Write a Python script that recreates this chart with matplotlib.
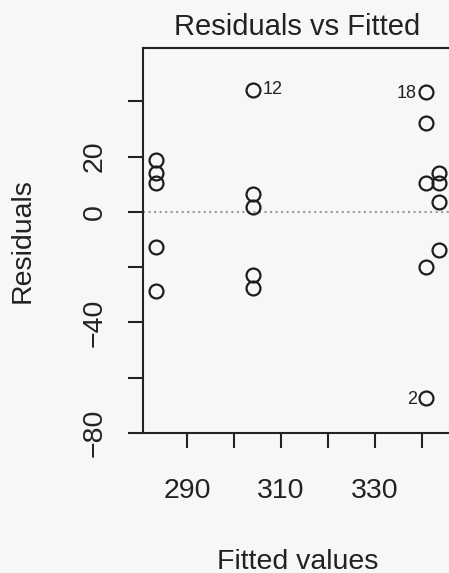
import numpy as np
import matplotlib
matplotlib.use("Agg")
import matplotlib.pyplot as plt

plt.rcParams['font.family'] = ['Liberation Sans', 'DejaVu Sans']

# fitted values and residuals
fitted = [283.4, 283.4, 283.4, 283.4, 283.4,
          304.0, 304.0, 304.0, 304.0, 304.0,
          340.85, 340.85, 340.85, 340.85, 340.85,
          343.6, 343.6, 343.6, 343.6]
residuals = [18.6, 14.0, 10.6, -12.8, -28.8,
             44.1, 6.5, 1.9, -22.8, -27.6,
             43.5, 32.1, 10.4, -19.8, -67.2,
             14.2, 10.4, 3.7, -13.7]

# labelled observations: (index into arrays, label, side)
labelled = [(5, "12", "right"), (10, "18", "left"), (14, "2", "left")]

yticks = [-80, -60, -40, -20, 0, 20, 40]
ytick_labels = ["\u221280", "", "\u221240", "", "0", "20", ""]
xticks = [290, 300, 310, 320, 330, 340]
xtick_labels = ["290", "", "310", "", "330", ""]

ink = "#222222"
bg = "#f7f7f5"

fig = plt.figure(figsize=(4.49, 5.73), dpi=100, facecolor=bg)
ax = fig.add_axes([0.3185, 0.2443, 0.688, 0.672], facecolor=bg)

ax.axhline(0, color="#9a9a9a", ls=":", lw=1.5, zorder=1)
ax.plot(fitted, residuals, ls="none", marker="o", ms=10, mfc="none",
        mec="#1c1c1c", mew=1.6, zorder=3)

for i, lab, side in labelled:
    if side == "right":
        ax.annotate(lab, (fitted[i], residuals[i]), xytext=(7, 0),
                    textcoords="offset points", ha="left", va="center",
                    fontsize=13, color=ink)
    else:
        ax.annotate(lab, (fitted[i], residuals[i]), xytext=(-6.5, -1.5),
                    textcoords="offset points", ha="right", va="center",
                    fontsize=13, color=ink)

ax.set_xlim(280.6, 346.4)
ax.set_ylim(-79.9, 59.3)

ax.set_yticks(yticks)
ax.set_yticklabels(ytick_labels, rotation=90, va="center")
ax.set_xticks(xticks)
ax.set_xticklabels(xtick_labels)

ax.tick_params(axis="both", length=10.8, width=1.5, colors=ink,
               labelsize=20.5, labelcolor=ink)
ax.tick_params(axis="x", pad=21.5)
ax.tick_params(axis="y", pad=14.8)

for s in ax.spines.values():
    s.set_linewidth(1.5)
    s.set_color(ink)

ax.set_title("Residuals vs Fitted", fontsize=21, color=ink, pad=9.4)
ax.set_xlabel("Fitted values", fontsize=20.5, color=ink)
ax.set_ylabel("Residuals", fontsize=20.5, color=ink)
ax.xaxis.set_label_coords(0.5, -0.3)
ax.yaxis.set_label_coords(-0.347, 0.5)

fig.savefig("out.png", dpi=100, facecolor=bg)
